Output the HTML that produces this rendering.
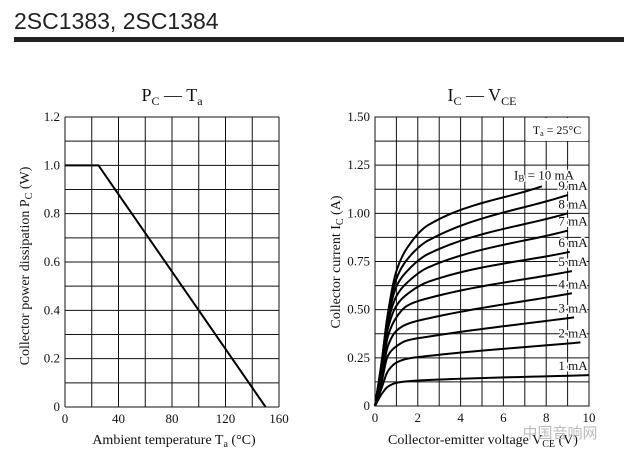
<!DOCTYPE html>
<html><head><meta charset="utf-8"><style>
body{margin:0;background:#fff;width:624px;height:456px;overflow:hidden}
svg{display:block}
text{font-family:"Liberation Serif",serif;fill:#111}
</style></head><body>
<svg width="624" height="456" viewBox="0 0 624 456">
<text x="14" y="29" style="font-family:'Liberation Sans',sans-serif;font-size:23px;fill:#222">2SC1383, 2SC1384</text>
<rect x="14" y="37" width="610" height="5" fill="#222"/>
<g id="left"></g>
<g id="right"></g>
<text x="560" y="438" style="font-family:'Noto Sans CJK SC',sans-serif;font-size:15px;fill:#bbb" text-anchor="middle">中国音响网</text>
</svg>
<script>
// ---- Left chart data ----
const pcTemps = [0, 25, 150];
const pcValues = [1.0, 1.0, 0];
const pcXTicks = [0, 40, 80, 120, 160];
const pcYTicks = [0, 0.2, 0.4, 0.6, 0.8, 1.0, 1.2];
const pcYTickLabels = ["0", "0.2", "0.4", "0.6", "0.8", "1.0", "1.2"];
// ---- Right chart data ----
const ibLabels = ["1 mA","2 mA","3 mA","4 mA","5 mA","6 mA","7 mA","8 mA","9 mA","IB = 10 mA"];
const vceKnee = [0, 0.3, 0.6, 1, 1.5, 2.5];
const vceEnd = [10, 9.6, 9.3, 9.2, 9.2, 9.1, 9.0, 9.0, 9.0, 7.8];
const ic1 = [0, 0.06, 0.10, 0.12, 0.128, 0.135, 0.16];
const ic2 = [0, 0.09, 0.18, 0.225, 0.245, 0.26, 0.33];
const ic3 = [0, 0.12, 0.26, 0.31, 0.34, 0.36, 0.46];
const ic4 = [0, 0.14, 0.31, 0.39, 0.425, 0.455, 0.585];
const ic5 = [0, 0.16, 0.36, 0.46, 0.52, 0.56, 0.70];
const ic6 = [0, 0.18, 0.40, 0.52, 0.58, 0.645, 0.80];
const ic7 = [0, 0.20, 0.43, 0.57, 0.64, 0.72, 0.91];
const ic8 = [0, 0.21, 0.45, 0.62, 0.70, 0.79, 1.0];
const ic9 = [0, 0.22, 0.47, 0.66, 0.76, 0.86, 1.095];
const ic10 = [0, 0.22, 0.48, 0.70, 0.82, 0.94, 1.14];
const icXTicks = [0, 2, 4, 6, 8, 10];
const icYTicks = [0, 0.25, 0.5, 0.75, 1.0, 1.25, 1.5];
const icYTickLabels = ["0", "0.25", "0.50", "0.75", "1.00", "1.25", "1.50"];

const NS = "http://www.w3.org/2000/svg";
function mk(parent, tag, attrs, txt){const e=document.createElementNS(NS,tag);for(const k in attrs)e.setAttribute(k,attrs[k]);if(txt!==undefined)e.textContent=txt;parent.appendChild(e);return e;}

// monotone cubic interpolation
function monotone(xs, ys, n){
  const k=xs.length, d=[], m=[];
  for(let i=0;i<k-1;i++) d.push((ys[i+1]-ys[i])/(xs[i+1]-xs[i]));
  m[0]=d[0]; m[k-1]=d[k-2];
  for(let i=1;i<k-1;i++){
    if(d[i-1]*d[i]<=0) m[i]=0;
    else { const w1=2*(xs[i+1]-xs[i])+(xs[i]-xs[i-1]), w2=(xs[i+1]-xs[i])+2*(xs[i]-xs[i-1]);
      m[i]=(w1+w2)/(w1/d[i-1]+w2/d[i]); }
  }
  const out=[];
  for(let i=0;i<k-1;i++){
    const h=xs[i+1]-xs[i];
    for(let j=0;j<n;j++){
      const t=j/n, t2=t*t, t3=t2*t;
      const y=(2*t3-3*t2+1)*ys[i]+(t3-2*t2+t)*h*m[i]+(-2*t3+3*t2)*ys[i+1]+(t3-t2)*h*m[i+1];
      out.push([xs[i]+t*h,y]);
    }
  }
  out.push([xs[k-1],ys[k-1]]);
  return out;
}

// Left
(function(){
  const g=document.getElementById('left');
  const X0=65,X1=279,Y0=407,Y1=117;
  const sx=v=>X0+(v-0)/(160)*(X1-X0), sy=v=>Y0-(v/1.2)*(Y0-Y1);
  for(let i=0;i<=8;i++){const l=mk(g,'line',{x1:sx(i*20),x2:sx(i*20),y1:Y1,y2:Y0,stroke:'#111','stroke-width':1});
    
    }
  for(let i=0;i<=12;i++){const l=mk(g,'line',{x1:X0,x2:X1,y1:sy(i*0.1),y2:sy(i*0.1),stroke:'#111','stroke-width':1});
    
    }
  pcXTicks.forEach(t=>{const e=mk(g,'text',{x:sx(t),y:423,'text-anchor':'middle','font-size':13},String(t));
    
    });
  pcYTicks.forEach((t,i)=>{const e=mk(g,'text',{x:60,y:sy(t)+4,'text-anchor':'end','font-size':13},pcYTickLabels[i]);
    
    });
  const p=mk(g,'polyline',{points:pcTemps.map((t,i)=>sx(t)+','+sy(pcValues[i])).join(' '),fill:'none',stroke:'#000','stroke-width':2});
  
  
  const t=mk(g,'text',{x:172,y:101,'text-anchor':'middle','font-size':18});
  t.innerHTML='P<tspan font-size="12" dy="4">C</tspan><tspan dy="-4"> — T</tspan><tspan font-size="12" dy="4">a</tspan>';
  
  
  const xl=mk(g,'text',{x:174,y:444,'text-anchor':'middle','font-size':14});
  xl.innerHTML='Ambient temperature  T<tspan font-size="10" dy="3">a</tspan><tspan dy="-3">  (°C)</tspan>';
  
  
  const yl=mk(g,'text',{x:0,y:0,'text-anchor':'middle','font-size':14,transform:'translate(29,266) rotate(-90)'});
  yl.innerHTML='Collector power dissipation  P<tspan font-size="10" dy="3">C</tspan><tspan dy="-3">  (W)</tspan>';
  
  
})();

// Right
(function(){
  const g=document.getElementById('right');
  const X0=375,X1=589,Y0=406,Y1=117;
  const sx=v=>X0+v/10*(X1-X0), sy=v=>Y0-v/1.5*(Y0-Y1);
  for(let i=0;i<=10;i++){const l=mk(g,'line',{x1:sx(i),x2:sx(i),y1:Y1,y2:Y0,stroke:'#111','stroke-width':1});
    
    }
  for(let i=0;i<=12;i++){const l=mk(g,'line',{x1:X0,x2:X1,y1:sy(i*0.125),y2:sy(i*0.125),stroke:'#111','stroke-width':1});
    
    }
  icXTicks.forEach(t=>{const e=mk(g,'text',{x:sx(t),y:422,'text-anchor':'middle','font-size':13},String(t));
    
    });
  icYTicks.forEach((t,i)=>{const e=mk(g,'text',{x:370,y:sy(t)+4,'text-anchor':'end','font-size':13},icYTickLabels[i]);
    
    });
  const series=[ic1,ic2,ic3,ic4,ic5,ic6,ic7,ic8,ic9,ic10];
  series.forEach((ic,si)=>{
    const vs=vceKnee.concat([vceEnd[si]]);
    const pts=monotone(vs,ic,20).map(p=>sx(p[0]).toFixed(2)+','+sy(p[1]).toFixed(2));
    const p=mk(g,'polyline',{points:pts.join(' '),fill:'none',stroke:'#000','stroke-width':2,'stroke-linejoin':'round'});
    
    
    const endY=sy(ic[ic.length-1]);
    const lx=si===9?544:573, ly=si===9?endY-7:endY-5;
    const txt=mk(g,'text',{x:lx,y:ly,'text-anchor':'middle','font-size':13,stroke:'#fff','stroke-width':3,'paint-order':'stroke'});
    if(si===9){txt.innerHTML='I<tspan font-size="9" dy="2">B</tspan><tspan dy="-2"> = 10 mA</tspan>';}
    else txt.textContent=ibLabels[si];
    
    
  });
  const box=mk(g,'rect',{x:526,y:118,width:62,height:23,fill:'#fff'});
  
  
  const bt=mk(g,'text',{x:557,y:134,'text-anchor':'middle','font-size':12});
  bt.innerHTML='T<tspan font-size="8" dy="2">a</tspan><tspan dy="-2"> = 25°C</tspan>';
  
  
  const fr=mk(g,'rect',{x:X0,y:Y1,width:X1-X0,height:Y0-Y1,fill:'none',stroke:'#111','stroke-width':1});
  
  
  const t=mk(g,'text',{x:482,y:101,'text-anchor':'middle','font-size':18});
  t.innerHTML='I<tspan font-size="12" dy="4">C</tspan><tspan dy="-4"> — V</tspan><tspan font-size="12" dy="4">CE</tspan>';
  
  
  const xl=mk(g,'text',{x:483,y:444,'text-anchor':'middle','font-size':14});
  xl.innerHTML='Collector-emitter voltage  V<tspan font-size="10" dy="3">CE</tspan><tspan dy="-3">  (V)</tspan>';
  
  
  const yl=mk(g,'text',{x:0,y:0,'text-anchor':'middle','font-size':14,transform:'translate(340,262) rotate(-90)'});
  yl.innerHTML='Collector current  I<tspan font-size="10" dy="3">C</tspan><tspan dy="-3">  (A)</tspan>';
  
  
})();
</script>
</body></html>
